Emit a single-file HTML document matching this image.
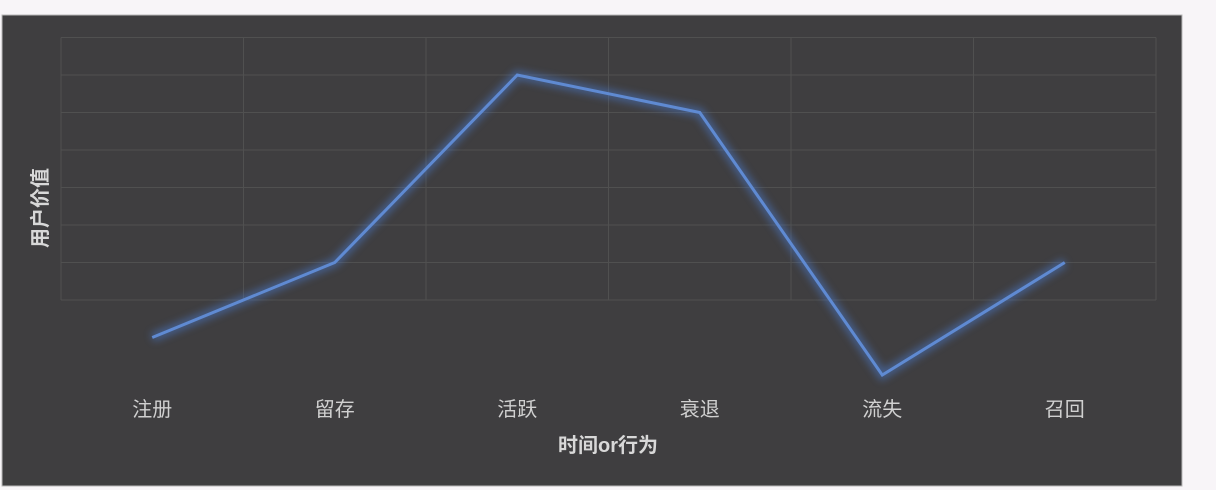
<!DOCTYPE html>
<html><head><meta charset="utf-8"><style>
body{margin:0;background:#f8f5f8;width:1216px;height:490px;overflow:hidden;font-family:"Liberation Sans","Noto Sans CJK SC",sans-serif}
</style></head><body>
<svg width="1216" height="490" style="position:absolute;left:0;top:0">
<defs><filter id="glow" x="-10%" y="-10%" width="120%" height="120%"><feGaussianBlur stdDeviation="4"/></filter></defs>
<rect x="2" y="15" width="1180" height="471" fill="#3f3e40" stroke="#b8b8b8" stroke-width="1"/>
<g id="grid"></g>
<g id="series"></g>
<g id="xlabels"></g>
<text x="47" y="208" fill="#d8d8d8" font-size="20" font-weight="bold" text-anchor="middle" transform="rotate(-90 47 208)">用户价值</text>
<text x="608" y="452" fill="#d8d8d8" font-size="20" font-weight="bold" text-anchor="middle">时间or行为</text>
</svg>
<script>
const categories=["注册","留存","活跃","衰退","流失","召回"];
const values=[1,3,8,7,0,3];
const gridValues=[2,3,4,5,6,7,8,9];
const NS="http://www.w3.org/2000/svg";
const x0=61,x1=1156,bw=(x1-x0)/6;
function xs(i){return x0+bw*(i+0.5);}
function ys(v){return 375-v*37.5;}
const grid=document.getElementById('grid');
gridValues.forEach(v=>{const l=document.createElementNS(NS,'line');


l.setAttribute('x1',x0);l.setAttribute('x2',x1);l.setAttribute('y1',ys(v));l.setAttribute('y2',ys(v));l.setAttribute('stroke','#505050');l.setAttribute('stroke-width','1');grid.appendChild(l);});
for(let i=0;i<=6;i++){const l=document.createElementNS(NS,'line');


const x=x0+bw*i;l.setAttribute('x1',x);l.setAttribute('x2',x);l.setAttribute('y1',ys(9));l.setAttribute('y2',ys(2));l.setAttribute('stroke','#505050');grid.appendChild(l);}
const pts=values.map((v,i)=>xs(i)+','+ys(v)).join(' ');
const s=document.getElementById('series');
const g=document.createElementNS(NS,'polyline');


g.setAttribute('points',pts);g.setAttribute('fill','none');g.setAttribute('stroke','#4a74c0');g.setAttribute('stroke-width','9');g.setAttribute('opacity','0.6');g.setAttribute('filter','url(#glow)');s.appendChild(g);
const p=document.createElementNS(NS,'polyline');


p.setAttribute('points',pts);p.setAttribute('fill','none');p.setAttribute('stroke','#5f8ad2');p.setAttribute('stroke-width','3');s.appendChild(p);
const xl=document.getElementById('xlabels');
categories.forEach((c,i)=>{const t=document.createElementNS(NS,'text');


t.setAttribute('x',xs(i));t.setAttribute('y',416);t.setAttribute('fill','#d0d0d0');t.setAttribute('font-size','20');t.setAttribute('text-anchor','middle');t.textContent=c;xl.appendChild(t);});
</script>
</body></html>
